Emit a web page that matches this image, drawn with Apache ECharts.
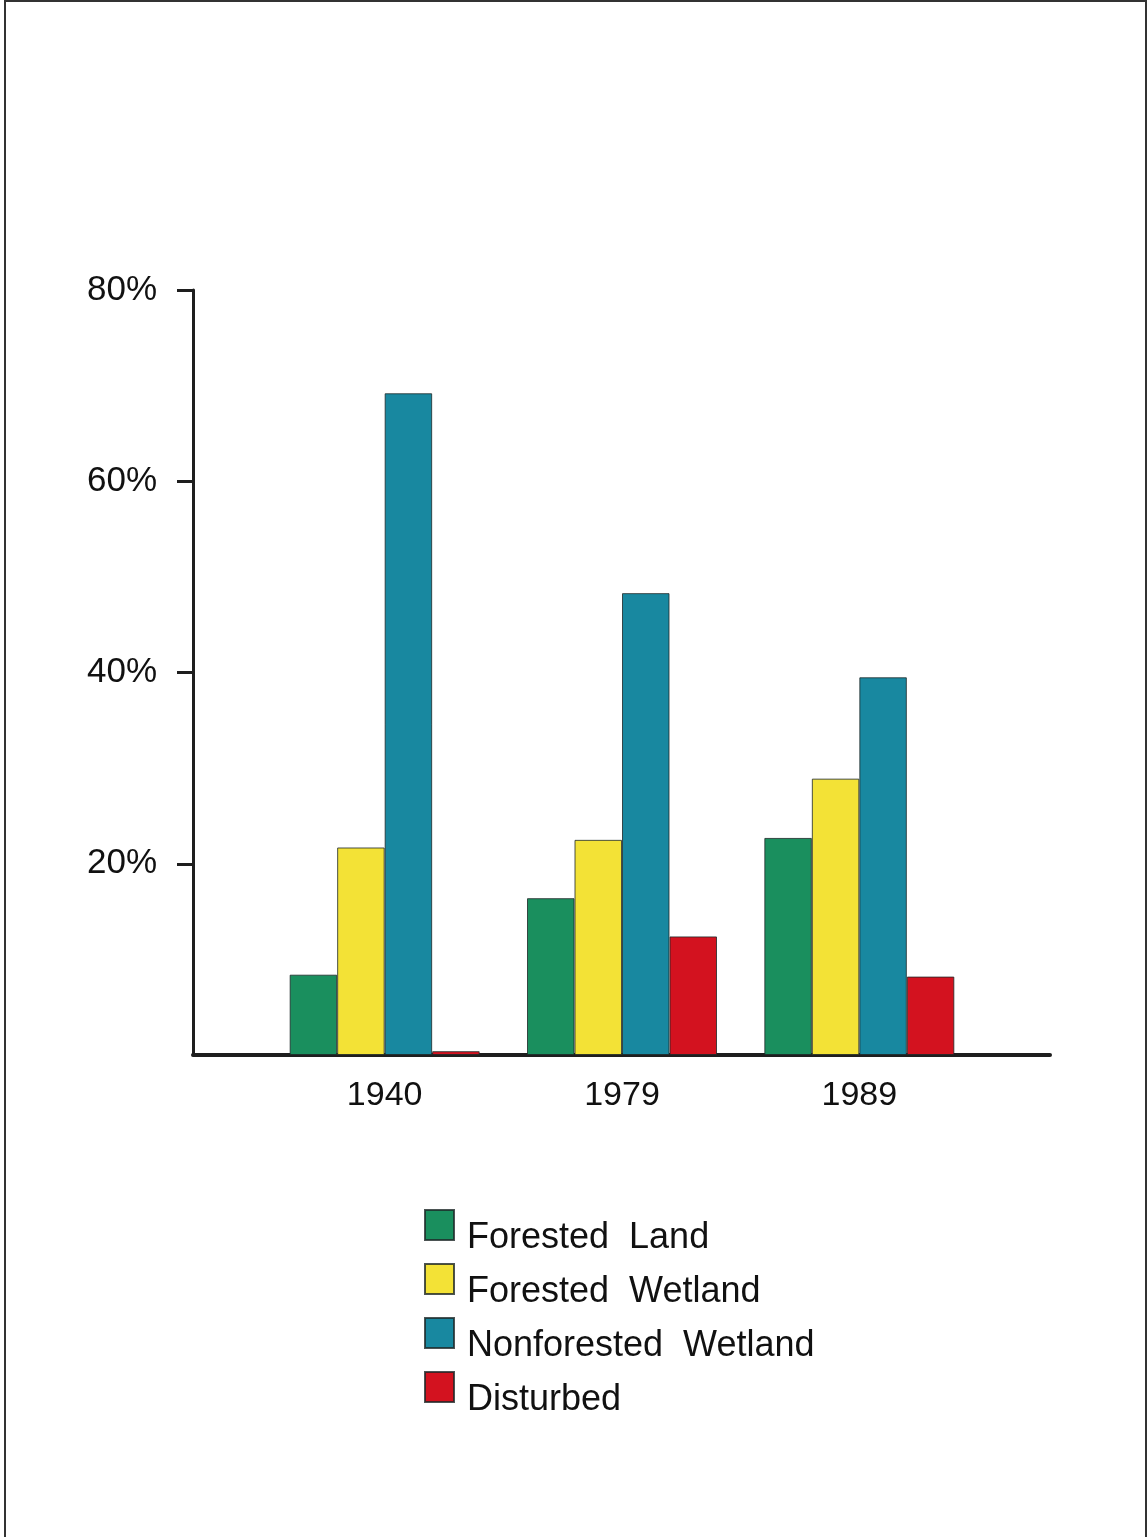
<!DOCTYPE html>
<html>
<head>
<meta charset="utf-8">
<script src="https://cdn.jsdelivr.net/npm/echarts@6/dist/echarts.min.js"></script>
<style>
html,body{margin:0;padding:0;background:#fff;}
#frame{position:absolute;left:4px;top:0;width:1139px;height:1535px;border:2px solid #333;}
#chart{position:absolute;left:0;top:0;width:1148px;height:1537px;}
</style>
</head>
<body>
<div id="frame"></div>
<div id="chart"></div>
<script>
const categories = ['1940', '1979', '1989'];
const forestedLand = [8.4, 16.4, 22.7];
const forestedWetland = [21.7, 22.5, 28.9];
const nonforestedWetland = [69.2, 48.3, 39.5];
const disturbed = [0.4, 12.4, 8.2];
const seriesNames = ['Forested  Land', 'Forested  Wetland', 'Nonforested  Wetland', 'Disturbed'];
const seriesColors = ['#1a8f5e', '#f3e236', '#1888a0', '#d3121f'];
const yTickValues = [20, 40, 60, 80];

const chart = echarts.init(document.getElementById('chart'), null, {renderer: 'canvas'});
const font = "'Liberation Sans', Arial, Helvetica, sans-serif";
const allData = [forestedLand, forestedWetland, nonforestedWetland, disturbed];

const option = {
  backgroundColor: 'transparent',
  animation: false,
  grid: [
    {left: 193, top: 290, width: 857, height: 765, containLabel: false},
    {left: 266, top: 290, width: 712, height: 765, containLabel: false}
  ],
  xAxis: [
    {
      gridIndex: 0, type: 'value', min: 0, max: 1,
      axisLine: {show: true, lineStyle: {color: '#1e1e1e', width: 4}},
      axisTick: {show: false}, axisLabel: {show: false}, splitLine: {show: false}
    },
    {
      gridIndex: 1, type: 'category', data: categories,
      axisLine: {show: false}, axisTick: {show: false}, splitLine: {show: false},
      axisLabel: {show: true, margin: 24, fontSize: 34, color: '#111', fontFamily: font}
    }
  ],
  yAxis: [
    {
      gridIndex: 0, type: 'value', min: 0, max: 80, interval: 20,
      axisLine: {show: true, lineStyle: {color: '#1e1e1e', width: 3}},
      axisTick: {show: true, inside: false, length: 16, customValues: yTickValues,
                 lineStyle: {color: '#1e1e1e', width: 3}},
      splitLine: {show: false},
      axisLabel: {
        show: true, margin: 36, fontSize: 35, color: '#111', fontFamily: font,
        customValues: yTickValues,
        formatter: function (v) { return v + '%'; }
      }
    },
    {
      gridIndex: 1, type: 'value', min: 0, max: 80, show: false
    }
  ],
  legend: {
    orient: 'vertical', left: 424, top: 1194, padding: 0,
    itemWidth: 29, itemHeight: 30, itemGap: -8,
    icon: 'rect',
    formatter: '{t|{name}}',
    textStyle: {
      fontSize: 36, color: '#111', fontFamily: font,
      rich: {t: {fontSize: 36, color: '#111', fontFamily: font, lineHeight: 30, padding: [26, 0, 0, 8]}}
    },
    data: seriesNames
  },
  series: seriesNames.map(function (name, i) {
    return {
      name: name, type: 'bar', xAxisIndex: 1, yAxisIndex: 1,
      data: allData[i], barWidth: 47.5, barGap: '0%',
      itemStyle: {color: seriesColors[i], borderColor: 'rgba(30,40,40,0.8)', borderWidth: 1}
    };
  })
};
chart.setOption(option);
</script>
</body>
</html>
